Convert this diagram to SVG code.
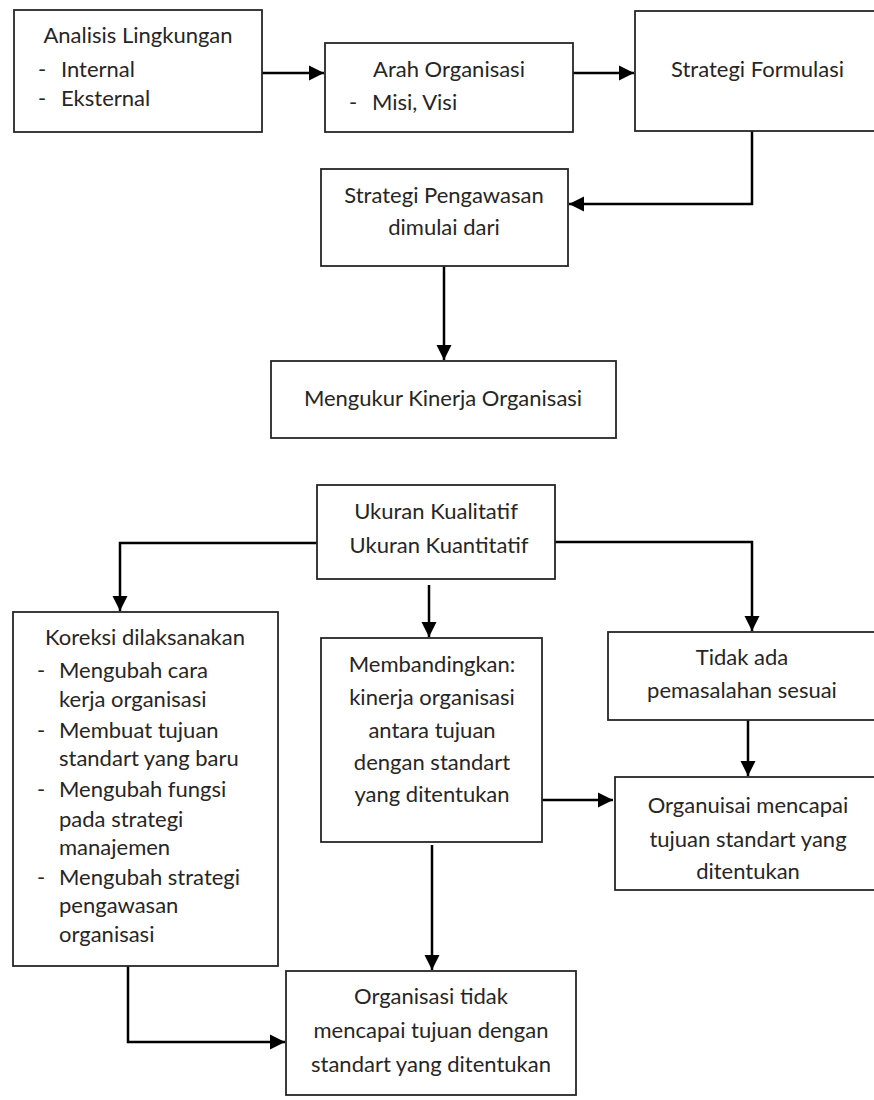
<svg xmlns="http://www.w3.org/2000/svg" width="874" height="1100" viewBox="0 0 874 1100">
<style>
rect.box{fill:#fff;stroke:#262626;stroke-width:1.8}
text{font-family:Lato,"Open Sans","Liberation Sans",sans-serif;font-size:22px;fill:#262626}
.c{text-anchor:middle}
.cn{fill:none;stroke:#000;stroke-width:2.5}
</style>
<defs>
<marker id="ah" markerUnits="userSpaceOnUse" markerWidth="16" markerHeight="16" viewBox="0 0 16 16" refX="15" refY="8" orient="auto">
<path d="M0,0.5 L15,8 L0,15.5 z" fill="#000"/>
</marker>
</defs>
<rect width="874" height="1100" fill="#fff"/>
<g id="connectors">
<path class="cn" d="M262,73 H324" marker-end="url(#ah)"/>
<path class="cn" d="M573,73 H634" marker-end="url(#ah)"/>
<path class="cn" d="M752,131 V204 H569" marker-end="url(#ah)"/>
<path class="cn" d="M444,266 V360" marker-end="url(#ah)"/>
<path class="cn" d="M317,543 H120 V611" marker-end="url(#ah)"/>
<path class="cn" d="M429,585 V637" marker-end="url(#ah)"/>
<path class="cn" d="M555,542 H752 V631" marker-end="url(#ah)"/>
<path class="cn" d="M542,800 H613" marker-end="url(#ah)"/>
<path class="cn" d="M432,845 V970" marker-end="url(#ah)"/>
<path class="cn" d="M748,720 V776" marker-end="url(#ah)"/>
<path class="cn" d="M128,966 V1042 H285" marker-end="url(#ah)"/>
</g>
<g id="n1">
<rect class="box" x="14" y="10" width="248" height="122"/>
<text class="c" x="138" y="43">Analisis Lingkungan</text>
<text x="38" y="77">-</text><text x="61" y="77">Internal</text>
<text x="38" y="106">-</text><text x="61" y="106">Eksternal</text>
</g>
<g id="n2">
<rect class="box" x="325" y="43" width="248" height="89"/>
<text class="c" x="449" y="77">Arah Organisasi</text>
<text x="349" y="110">-</text><text x="372" y="110">Misi, Visi</text>
</g>
<g id="n3">
<rect class="box" x="635" y="11" width="250" height="120"/>
<text x="671" y="77">Strategi Formulasi</text>
</g>
<g id="n4">
<rect class="box" x="321" y="169" width="247" height="97"/>
<text class="c" x="444" y="203">Strategi Pengawasan</text>
<text class="c" x="444" y="235">dimulai dari</text>
</g>
<g id="n5">
<rect class="box" x="271" y="361" width="345" height="77"/>
<text class="c" x="443" y="406">Mengukur Kinerja Organisasi</text>
</g>
<g id="n6">
<rect class="box" x="317" y="485" width="238" height="94"/>
<text class="c" x="436" y="519">Ukuran Kualitatif</text>
<text class="c" x="439" y="553">Ukuran Kuantitatif</text>
</g>
<g id="n7">
<rect class="box" x="13" y="612" width="265" height="354"/>
<text class="c" x="145" y="645">Koreksi dilaksanakan</text>
<text x="37" y="678">-</text><text x="59" y="678">Mengubah cara</text>
<text x="59" y="707">kerja organisasi</text>
<text x="37" y="738">-</text><text x="59" y="738">Membuat tujuan</text>
<text x="59" y="766">standart yang baru</text>
<text x="37" y="797">-</text><text x="59" y="797">Mengubah fungsi</text>
<text x="59" y="827">pada strategi</text>
<text x="59" y="855">manajemen</text>
<text x="37" y="885">-</text><text x="59" y="885">Mengubah strategi</text>
<text x="59" y="913">pengawasan</text>
<text x="59" y="942">organisasi</text>
</g>
<g id="n8">
<rect class="box" x="321" y="638" width="221" height="204"/>
<text class="c" x="432" y="672">Membandingkan:</text>
<text class="c" x="432" y="705">kinerja organisasi</text>
<text class="c" x="432" y="738">antara tujuan</text>
<text class="c" x="432" y="770">dengan standart</text>
<text class="c" x="432" y="802">yang ditentukan</text>
</g>
<g id="n9">
<rect class="box" x="286" y="971" width="290" height="124"/>
<text class="c" x="431" y="1004">Organisasi tidak</text>
<text class="c" x="431" y="1038">mencapai tujuan dengan</text>
<text class="c" x="431" y="1072">standart yang ditentukan</text>
</g>
<g id="n10">
<rect class="box" x="608" y="632" width="270" height="88"/>
<text class="c" x="742" y="665">Tidak ada</text>
<text class="c" x="742" y="698">pemasalahan sesuai</text>
</g>
<g id="n11">
<rect class="box" x="615" y="777" width="270" height="113"/>
<text class="c" x="748" y="813">Organuisai mencapai</text>
<text class="c" x="748" y="847">tujuan standart yang</text>
<text class="c" x="748" y="879">ditentukan</text>
</g>
</svg>
